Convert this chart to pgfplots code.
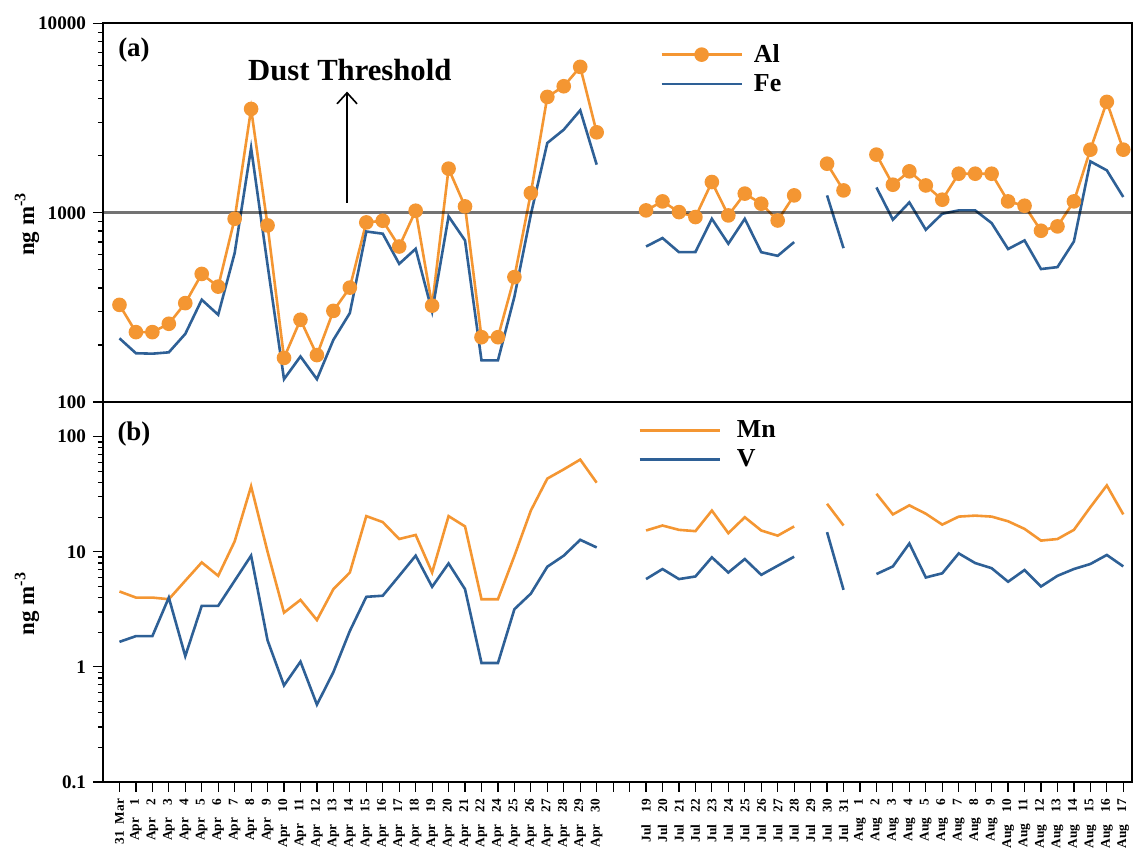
\documentclass[border=0pt]{standalone}
\usepackage{fontspec}
\setmainfont{Liberation Serif}
\usepackage{pgfplots}
\usepackage{pgfplotstable}
\pgfplotsset{compat=1.18}
\usetikzlibrary{arrows.meta}

\definecolor{alorange}{RGB}{244,150,50}
\definecolor{feblue}{RGB}{46,96,150}

% daily concentrations (ng m^-3); nan = no sample
\pgfplotstableread{
idx Al Fe Mn V
0 326 217 4.52 1.65
1 234 181 4.0 1.85
2 234 180 4.0 1.85
3 259 183 3.87 4.0
4 333 229 5.6 1.24
5 475 347 8.08 3.39
6 407 289 6.18 3.39
7 929 612 12.3 5.6
8 3537 2200 37.0 9.25
9 857 530 10.0 1.70
10 171 132 2.96 0.69
11 272 174 3.82 1.11
12 177 132 2.55 0.47
13 303 213 4.73 0.90
14 402 295 6.6 2.05
15 889 796 20.4 4.06
16 907 775 18.1 4.15
17 663 537 12.9 6.18
18 1025 645 14.0 9.25
19 323 300 6.6 4.96
20 1710 957 20.4 7.92
21 1080 714 16.6 4.73
22 220 166 3.87 1.08
23 220 166 3.87 1.08
24 457 360 9.2 3.17
25 1271 980 22.8 4.33
26 4093 2337 43.2 7.41
27 4660 2748 52 9.25
28 5900 3479 63.2 12.7
29 2660 1795 39.8 10.9
30 nan nan nan nan
31 nan nan nan nan
32 1029 663 15.3 5.79
33 1148 735 16.9 7.08
34 1008 619 15.5 5.79
35 949 620 15.1 6.1
36 1453 929 22.8 8.94
37 968 686 14.5 6.6
38 1262 929 19.95 8.65
39 1116 619 15.3 6.3
40 910 592 13.8 7.56
41 1235 700 16.6 9.06
42 nan nan nan nan
43 1816 1235 26.1 14.8
44 1312 650 16.9 4.67
45 nan nan nan nan
46 2028 1361 31.9 6.4
47 1406 919 21.1 7.46
48 1655 1134 25.3 11.8
49 1394 813 21.4 5.98
50 1172 988 17.2 6.5
51 1608 1029 20.2 9.68
52 1608 1029 20.6 7.98
53 1608 882 20.2 7.2
54 1148 643 18.4 5.49
55 1089 714 15.8 6.94
56 803 504 12.5 4.99
57 847 516 12.9 6.18
58 1148 705 15.5 7.08
59 2154 1868 24.4 7.83
60 3852 1675 37.7 9.38
61 2154 1211 21.1 7.46
}\conc

\newcommand{\dl}[2]{#1\hspace{0.9em}#2}

\pgfplotsset{
  mypanel/.style={
    scale only axis,
    width=514.25bp,
    xmin=-1, xmax=61.5,
    unbounded coords=jump,
    axis line style={line width=1bp},
    tick style={line width=0.6bp, black},
    major tick length=5bp,
    minor tick length=2.5bp,
    tick align=outside,
    ytick pos=left,
    yticklabel style={font=\bfseries\fontsize{9.6}{10}\selectfont},
    ylabel={\textbf{ng m\textsuperscript{-3}}},
    ylabel style={at={(axis description cs:-0.0739,0.47)}, anchor=center,
      font=\bfseries\fontsize{11.5}{12}\selectfont},
    legend cell align=left,
    legend style={draw=none, fill=none, anchor=north west, inner sep=0pt,
      row sep=0.5bp, font=\bfseries\fontsize{13}{14}\selectfont,
      nodes={inner sep=2bp}},
  },
  % legend key: 40bp line (mark in the middle) plus a gap before the text
  keygap/.style={
    legend image code/.code={%
      \draw[mark repeat=2,mark phase=2,##1]
        plot coordinates {(0bp,0bp) (20bp,0bp) (40bp,0bp)};
      \path (#1,0bp);},
  },
  orangeline/.style={color=alorange, line width=1.3bp},
  blueline/.style={color=feblue, line width=1.3bp},
}

\begin{document}
\begin{tikzpicture}
\useasboundingbox (0,0) rectangle (566.5bp,428bp);

% (a) crustal elements Al and Fe
\begin{axis}[ymode=log, mypanel, keygap=43.5bp,
  at={(51.5bp,227bp)}, anchor=south west,
  height=189.25bp,
  ymin=100, ymax=10000,
  ytick={100,1000,10000}, yticklabels={100,1000,10000},
  minor ytick={200,300,400,500,600,700,800,900,2000,3000,4000,5000,6000,7000,8000,9000},
  xtick=\empty,
  legend style={at={(axis description cs:0.5415,0.957)}},
]
\addplot[orangeline, mark=*, mark size=3bp, mark options={fill=alorange, draw=alorange}]
  table[x=idx, y=Al] {\conc};
\addlegendentry{Al}
\addplot[blueline] table[x=idx, y=Fe] {\conc};
\addlegendentry{Fe}
% dust threshold at 1000 ng m^-3
\draw[black, opacity=0.55, line width=1.5bp] (axis cs:-1,1000) -- (axis cs:61.5,1000);
\draw[line width=0.8bp, -{Straight Barb[length=5.5bp,width=10bp]}]
  (axis cs:13.83,1130) -- (axis cs:13.83,4365);
\node[font=\bfseries\fontsize{15.4}{16}\selectfont] at (axis cs:14.0,5710) {Dust Threshold};
\node[font=\bfseries\fontsize{13.5}{14}\selectfont] at (axis cs:0.88,7200) {(a)};
\end{axis}

% (b) Mn and V
\begin{axis}[ymode=log, mypanel, keygap=46bp,
  at={(51.5bp,37bp)}, anchor=south west,
  height=190bp,
  ymin=0.1, ymax=200,
  ytick={0.1,1,10,100}, yticklabels={0.1,1,10,100},
  minor ytick={0.2,0.3,0.4,0.5,0.6,0.7,0.8,0.9,2,3,4,5,6,7,8,9,20,30,40,50,60,70,80,90,200},
  xtick={0,...,61},
  xtick pos=bottom,
  xticklabel style={rotate=90, anchor=east, font=\bfseries\fontsize{6.7}{7}\selectfont},
  xticklabels={31\hspace{0.5em}Mar,
    \dl{Apr}{1},\dl{Apr}{2},\dl{Apr}{3},\dl{Apr}{4},\dl{Apr}{5},\dl{Apr}{6},\dl{Apr}{7},
    \dl{Apr}{8},\dl{Apr}{9},\dl{Apr}{10},\dl{Apr}{11},\dl{Apr}{12},\dl{Apr}{13},\dl{Apr}{14},
    \dl{Apr}{15},\dl{Apr}{16},\dl{Apr}{17},\dl{Apr}{18},\dl{Apr}{19},\dl{Apr}{20},\dl{Apr}{21},
    \dl{Apr}{22},\dl{Apr}{24},\dl{Apr}{25},\dl{Apr}{26},\dl{Apr}{27},\dl{Apr}{28},\dl{Apr}{29},
    \dl{Apr}{30},{},{},
    \dl{Jul}{19},\dl{Jul}{20},\dl{Jul}{21},\dl{Jul}{22},\dl{Jul}{23},\dl{Jul}{24},\dl{Jul}{25},
    \dl{Jul}{26},\dl{Jul}{27},\dl{Jul}{28},\dl{Jul}{29},\dl{Jul}{30},\dl{Jul}{31},
    \dl{Aug}{1},\dl{Aug}{2},\dl{Aug}{3},\dl{Aug}{4},\dl{Aug}{5},\dl{Aug}{6},\dl{Aug}{7},
    \dl{Aug}{8},\dl{Aug}{9},\dl{Aug}{10},\dl{Aug}{11},\dl{Aug}{12},\dl{Aug}{13},\dl{Aug}{14},
    \dl{Aug}{15},\dl{Aug}{16},\dl{Aug}{17}},
  legend style={at={(axis description cs:0.520,0.962)}},
]
\addplot[orangeline] table[x=idx, y=Mn] {\conc};
\addlegendentry{Mn}
\addplot[blueline] table[x=idx, y=V] {\conc};
\addlegendentry{V}
\node[font=\bfseries\fontsize{13.5}{14}\selectfont] at (axis cs:0.88,105) {(b)};
\end{axis}
\end{tikzpicture}
\end{document}
